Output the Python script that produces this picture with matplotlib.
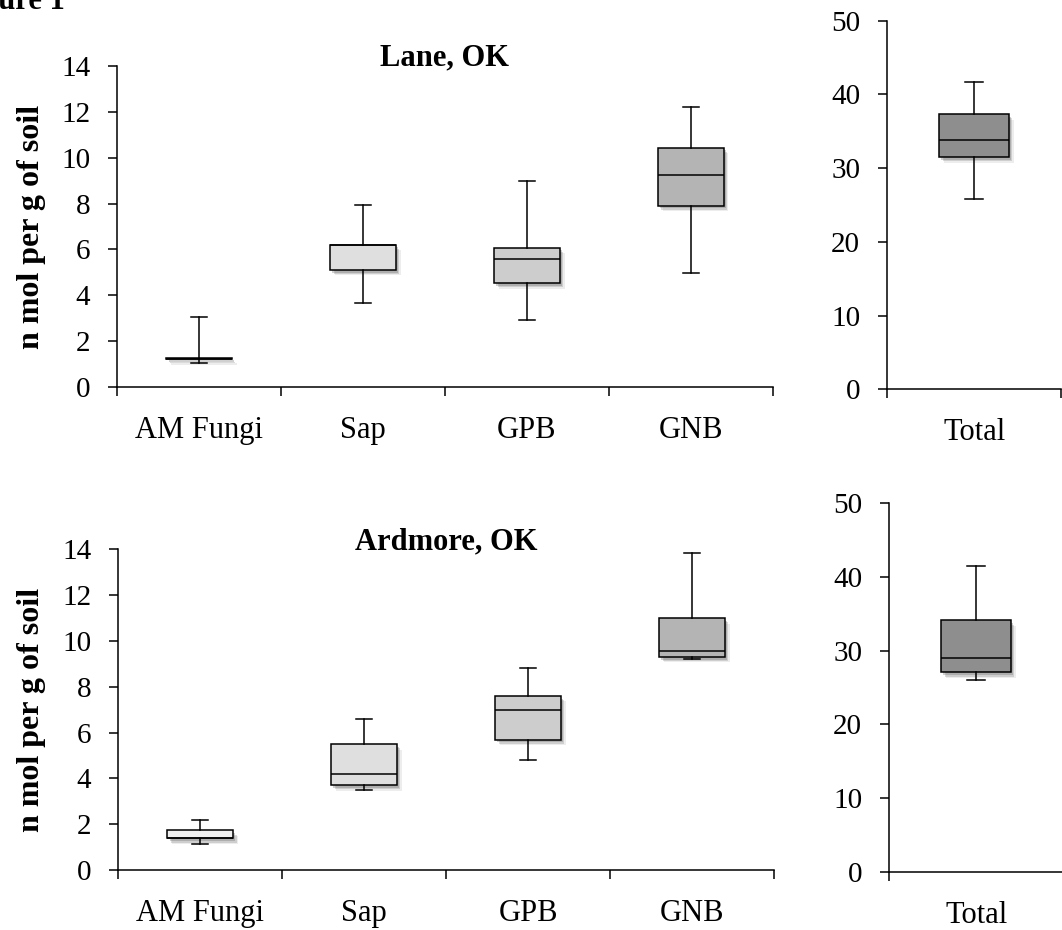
import matplotlib
matplotlib.use('Agg')
import matplotlib.pyplot as plt
from matplotlib import patheffects as pe

plt.rcParams['font.family'] = ['Liberation Serif', 'DejaVu Serif']

# --- data (n mol per g of soil) ---
categories = ['AM Fungi', 'Sap', 'GPB', 'GNB']
box_colors = ['#efefef', '#dfdfdf', '#cdcdcd', '#b4b4b4']
total_color = '#8e8e8e'

# Lane, OK
lane_low = [1.07, 3.66, 2.93, 4.99]
lane_q1 = [1.22, 5.11, 4.53, 7.91]
lane_med = [1.25, 6.18, 5.59, 9.24]
lane_q3 = [1.29, 6.21, 6.08, 10.43]
lane_high = [3.07, 7.94, 8.98, 12.19]
# low, q1, median, q3, high
lane_total = [25.8, 31.5, 33.8, 37.3, 41.7]

# Ardmore, OK
ardmore_low = [1.15, 3.49, 4.79, 9.20]
ardmore_q1 = [1.38, 3.71, 5.69, 9.31]
ardmore_med = [1.40, 4.19, 6.99, 9.56]
ardmore_q3 = [1.73, 5.49, 7.60, 10.99]
ardmore_high = [2.17, 6.59, 8.81, 13.83]
ardmore_total = [26.0, 27.05, 29.0, 34.1, 41.5]

W, H = 1062, 930


def make_stats(low, q1, med, q3, high):
    return [dict(whislo=a, q1=b, med=c, q3=d, whishi=e, fliers=[])
            for a, b, c, d, e in zip(low, q1, med, q3, high)]


def draw_boxes(ax, stats, colors):
    lw = 1.1
    bp = ax.bxp(stats, positions=range(1, len(stats) + 1), widths=0.4,
                capwidths=0.1, patch_artist=True, showfliers=False,
                boxprops=dict(linewidth=lw, edgecolor='black'),
                medianprops=dict(color='black', linewidth=lw),
                whiskerprops=dict(color='black', linewidth=lw),
                capprops=dict(color='black', linewidth=lw))
    for patch, c in zip(bp['boxes'], colors):
        patch.set_facecolor(c)
        # soft drop shadow like the Excel original
        patch.set_path_effects([
            pe.SimplePatchShadow(offset=(3.5, -4), shadow_rgbFace='0.55', alpha=0.15),
            pe.SimplePatchShadow(offset=(2.5, -3), shadow_rgbFace='0.45', alpha=0.25),
            pe.SimplePatchShadow(offset=(1.5, -2), shadow_rgbFace='0.4', alpha=0.3),
            pe.Normal()])
    return bp


def style_axes(ax, labels, ymax, ystep):
    n = len(labels)
    ax.set_xlim(0.5, n + 0.5)
    ax.set_ylim(0, ymax)
    ax.set_yticks(range(0, ymax + 1, ystep))
    ax.set_xticks([i + 0.5 for i in range(n + 1)])
    ax.set_xticklabels([])
    ax.set_xticks(range(1, n + 1), labels=labels, minor=True)
    ax.tick_params(axis='x', which='minor', length=0, pad=21, labelsize=22)
    ax.tick_params(axis='x', which='major', direction='out', length=6.5, width=1.1)
    ax.tick_params(axis='y', direction='out', length=6.5, width=1.1, labelsize=21, pad=13)
    for s in ['top', 'right']:
        ax.spines[s].set_visible(False)
    for s in ['left', 'bottom']:
        ax.spines[s].set_linewidth(1.1)
    ax.patch.set_alpha(0)


fig = plt.figure(figsize=(W / 100, H / 100), dpi=100)

ax_tl = fig.add_axes([117.3 / W, 1 - 387.3 / H, 655.4 / W, 321.6 / H])
ax_bl = fig.add_axes([118.3 / W, 1 - 870.0 / H, 655.7 / W, 320.7 / H])
ax_tr = fig.add_axes([887.3 / W, 1 - 389.3 / H, 173.7 / W, 368.6 / H])
ax_br = fig.add_axes([889.3 / W, 1 - 871.7 / H, 173.7 / W, 368.4 / H])

draw_boxes(ax_tl, make_stats(lane_low, lane_q1, lane_med, lane_q3, lane_high), box_colors)
draw_boxes(ax_bl, make_stats(ardmore_low, ardmore_q1, ardmore_med, ardmore_q3, ardmore_high), box_colors)
draw_boxes(ax_tr, make_stats(*[[v] for v in lane_total]), [total_color])
draw_boxes(ax_br, make_stats(*[[v] for v in ardmore_total]), [total_color])

style_axes(ax_tl, categories, 14, 2)
style_axes(ax_bl, categories, 14, 2)
style_axes(ax_tr, ['Total'], 50, 10)
style_axes(ax_br, ['Total'], 50, 10)

# explicit y keeps matplotlib from pushing the title above the axes box
ax_tl.set_title('Lane, OK', fontsize=22, fontweight='bold', y=1.0, pad=0)
ax_bl.set_title('Ardmore, OK', fontsize=22, fontweight='bold', y=1.0, pad=0)

fig.text(32 / W, 1 - 227 / H, 'n mol per g of soil', rotation=90, ha='center',
         va='center', fontsize=23, fontweight='bold')
fig.text(32 / W, 1 - 710 / H, 'n mol per g of soil', rotation=90, ha='center',
         va='center', fontsize=23, fontweight='bold')

# caption is cut off at the top-left corner in the original
fig.text(65 / W, 1 - 9 / H, 'Figure 1', ha='right', va='baseline',
         fontsize=22, fontweight='bold')

fig.savefig('out.png', dpi=100)
